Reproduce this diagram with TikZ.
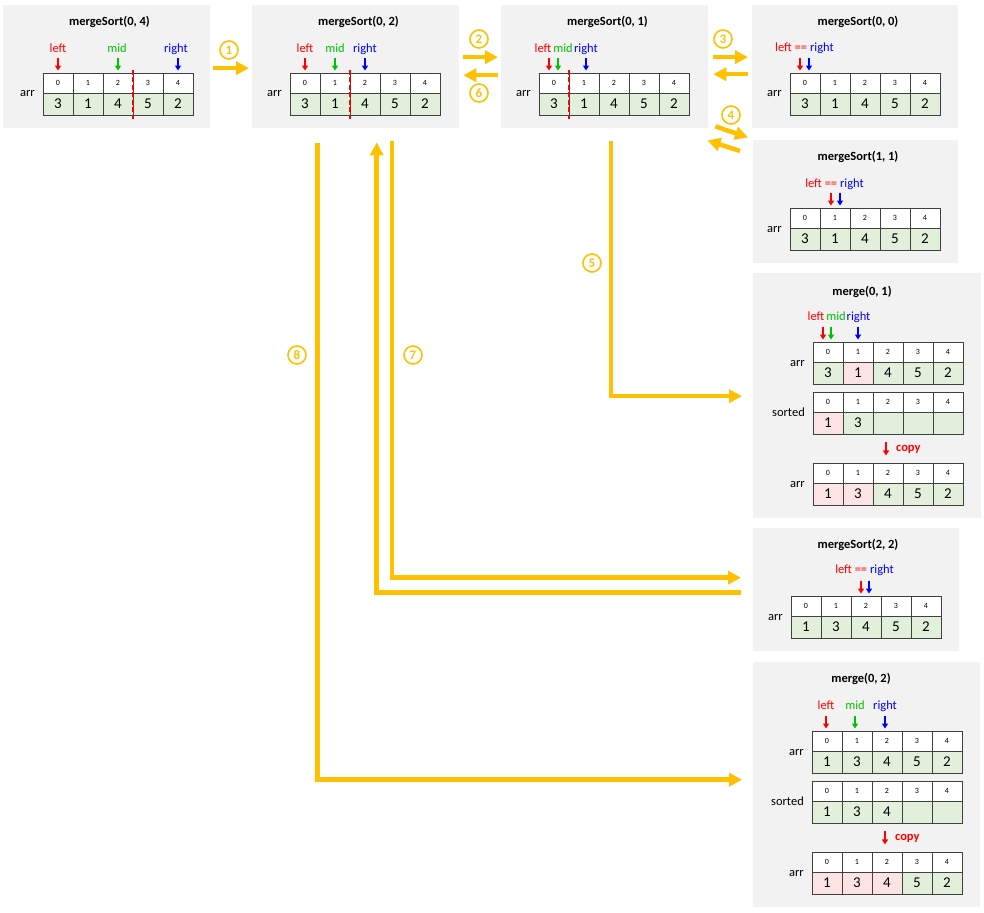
\documentclass[tikz,border=0pt]{standalone}
\usepackage{fontspec}
\setmainfont{Carlito}
\usetikzlibrary{arrows.meta}

\definecolor{panelgray}{HTML}{F2F2F2}
\definecolor{gn}{HTML}{E2EFDA}
\definecolor{pk}{HTML}{FCE4E4}
\definecolor{flowgold}{HTML}{FFC000}
\definecolor{gridline}{HTML}{404040}
\definecolor{midgreen}{HTML}{00C000}

% one array: name, left, top, row label, value/fill list
\newcommand{\arrtab}[5]{%
  \node[rowlbl] (#1-lbl) at (#2-8,#3+24) {#4};
  \foreach \v/\c [count=\i from 0] in {#5} {
    \node[idx] (#1-i\i) at (#2+15+30*\i,#3+10) {\i};
    \node[val, fill=\c] (#1-v\i) at (#2+15+30*\i,#3+31) {\v};
  }
}

\begin{document}
\begin{tikzpicture}[x=1pt, y=-1pt,
panel/.style={fill=panelgray, anchor=north west, inner sep=0pt},
title/.style={font=\bfseries\fontsize{12.5}{14}\selectfont},
lbl/.style={anchor=base, inner sep=0pt, font=\fontsize{12.5}{14}\selectfont},
rowlbl/.style={anchor=base east, inner sep=0pt, font=\fontsize{12.5}{14}\selectfont},
idx/.style={draw=gridline, fill=white, line width=0.9pt, minimum width=30pt, minimum height=20pt, inner sep=0pt, font=\fontsize{8}{9}\selectfont},
val/.style={draw=gridline, line width=0.9pt, minimum width=30pt, minimum height=22pt, inner sep=0pt, font=\fontsize{15}{16}\selectfont},
ptr/.style={-{Triangle[length=5pt,width=6pt]}, line width=1.5pt},
cut/.style={draw=red, line width=2pt, dash pattern=on 5pt off 2.5pt},
flow/.style={-{Triangle[length=13pt,width=13pt]}, line width=4.5pt, flowgold},
badge/.style={circle, draw=flowgold, text=flowgold, line width=1.6pt, minimum size=18pt, inner sep=0pt, font=\bfseries\fontsize{13}{13}\selectfont}
]
\useasboundingbox (0,0) rectangle (984,912);

% mergeSort(0, 4)
\node[panel, minimum width=207pt, minimum height=123pt] (ms04) at (3,5) {};
\node[title] (ms04-t) at (109.5,22) {mergeSort(0, 4)};
\arrtab{ms04a}{43}{73}{arr}{3/gn,1/gn,4/gn,5/gn,2/gn}
\node[lbl, red] (ms04-l) at (58,53) {left};
\node[lbl, midgreen] (ms04-m) at (117,53) {mid};
\node[lbl, blue] (ms04-r) at (176,53) {right};
\draw[ptr, red] ([yshift=15pt]ms04a-i0.north) -- ([yshift=2pt]ms04a-i0.north);
\draw[ptr, midgreen] ([yshift=15pt]ms04a-i2.north) -- ([yshift=2pt]ms04a-i2.north);
\draw[ptr, blue] ([yshift=15pt]ms04a-i4.north) -- ([yshift=2pt]ms04a-i4.north);
\draw[cut] ([yshift=3pt]ms04a-i2.north east) -- ([yshift=-4pt]ms04a-v2.south east);

% mergeSort(0, 2)
\node[panel, minimum width=207pt, minimum height=123pt] (ms02) at (252,5) {};
\node[title] (ms02-t) at (358.5,22) {mergeSort(0, 2)};
\arrtab{ms02a}{290}{73}{arr}{3/gn,1/gn,4/gn,5/gn,2/gn}
\node[lbl, red] (ms02-l) at (305,53) {left};
\node[lbl, midgreen] (ms02-m) at (335,53) {mid};
\node[lbl, blue] (ms02-r) at (365,53) {right};
\draw[ptr, red] ([yshift=15pt]ms02a-i0.north) -- ([yshift=2pt]ms02a-i0.north);
\draw[ptr, midgreen] ([yshift=15pt]ms02a-i1.north) -- ([yshift=2pt]ms02a-i1.north);
\draw[ptr, blue] ([yshift=15pt]ms02a-i2.north) -- ([yshift=2pt]ms02a-i2.north);
\draw[cut] ([yshift=3pt]ms02a-i1.north east) -- ([yshift=-4pt]ms02a-v1.south east);

% mergeSort(0, 1)
\node[panel, minimum width=207pt, minimum height=123pt] (ms01) at (501,5) {};
\node[title] (ms01-t) at (607.5,22) {mergeSort(0, 1)};
\arrtab{ms01a}{539}{73}{arr}{3/gn,1/gn,4/gn,5/gn,2/gn}
\node[lbl, red] (ms01-l) at (543,53) {left};
\node[lbl, midgreen] (ms01-m) at (563,53) {mid};
\node[lbl, blue] (ms01-r) at (586,53) {right};
\draw[ptr, red] ([shift={(-5pt,15pt)}]ms01a-i0.north) -- ([shift={(-5pt,2pt)}]ms01a-i0.north);
\draw[ptr, midgreen] ([shift={(4pt,15pt)}]ms01a-i0.north) -- ([shift={(4pt,2pt)}]ms01a-i0.north);
\draw[ptr, blue] ([shift={(2pt,15pt)}]ms01a-i1.north) -- ([shift={(2pt,2pt)}]ms01a-i1.north);
\draw[cut] ([yshift=3pt]ms01a-i0.north east) -- ([yshift=-4pt]ms01a-v0.south east);

% mergeSort(0, 0)
\node[panel, minimum width=206pt, minimum height=123pt] (ms00) at (752,5) {};
\node[title] (ms00-t) at (858,22) {mergeSort(0, 0)};
\arrtab{ms00a}{790}{73}{arr}{3/gn,1/gn,4/gn,5/gn,2/gn}
\node[lbl] (ms00-lr) at (804.5,52) {\color{red}left == \color{blue}right};
\draw[ptr, red] ([shift={(-5pt,15pt)}]ms00a-i0.north) -- ([shift={(-5pt,2pt)}]ms00a-i0.north);
\draw[ptr, blue] ([shift={(4pt,15pt)}]ms00a-i0.north) -- ([shift={(4pt,2pt)}]ms00a-i0.north);

% mergeSort(1, 1)
\node[panel, minimum width=205pt, minimum height=123pt] (ms11) at (753,140) {};
\node[title] (ms11-t) at (858,157) {mergeSort(1, 1)};
\arrtab{ms11a}{790}{208}{arr}{3/gn,1/gn,4/gn,5/gn,2/gn}
\node[lbl] (ms11-lr) at (834.5,187) {\color{red}left == \color{blue}right};
\draw[ptr, red] ([shift={(-4pt,15pt)}]ms11a-i1.north) -- ([shift={(-4pt,2pt)}]ms11a-i1.north);
\draw[ptr, blue] ([shift={(5pt,15pt)}]ms11a-i1.north) -- ([shift={(5pt,2pt)}]ms11a-i1.north);

% merge(0, 1)
\node[panel, minimum width=228pt, minimum height=245pt] (mg01) at (753,273) {};
\node[title] (mg01-t) at (862,292) {merge(0, 1)};
\arrtab{mg01a}{813}{342}{arr}{3/gn,1/pk,4/gn,5/gn,2/gn}
\arrtab{mg01b}{813}{392}{sorted}{1/pk,3/gn,{}/gn,{}/gn,{}/gn}
\arrtab{mg01c}{813}{463}{arr}{1/pk,3/pk,4/gn,5/gn,2/gn}
\node[lbl, red] (mg01-l) at (816,320) {left};
\node[lbl, midgreen] (mg01-m) at (836,320) {mid};
\node[lbl, blue] (mg01-r) at (858.5,320) {right};
\draw[ptr, red] ([shift={(-5pt,15pt)}]mg01a-i0.north) -- ([shift={(-5pt,2pt)}]mg01a-i0.north);
\draw[ptr, midgreen] ([shift={(3pt,15pt)}]mg01a-i0.north) -- ([shift={(3pt,2pt)}]mg01a-i0.north);
\draw[ptr, blue] ([yshift=15pt]mg01a-i1.north) -- ([yshift=2pt]mg01a-i1.north);
\draw[ptr, red] ([shift={(-2pt,-8pt)}]mg01b-v2.south) -- ([shift={(-2pt,-21pt)}]mg01b-v2.south)
  node[midway, anchor=west, xshift=6pt, font=\bfseries\fontsize{12.5}{14}\selectfont] (mg01-cp) {copy};

% mergeSort(2, 2)
\node[panel, minimum width=206pt, minimum height=123pt] (ms22) at (753,528) {};
\node[title] (ms22-t) at (858,545) {mergeSort(2, 2)};
\arrtab{ms22a}{791}{596}{arr}{1/gn,3/gn,4/gn,5/gn,2/gn}
\node[lbl] (ms22-lr) at (864.5,573) {\color{red}left == \color{blue}right};
\draw[ptr, red] ([shift={(-5pt,15pt)}]ms22a-i2.north) -- ([shift={(-5pt,2pt)}]ms22a-i2.north);
\draw[ptr, blue] ([shift={(3pt,15pt)}]ms22a-i2.north) -- ([shift={(3pt,2pt)}]ms22a-i2.north);

% merge(0, 2)
\node[panel, minimum width=227pt, minimum height=245pt] (mg02) at (753,662) {};
\node[title] (mg02-t) at (861,679) {merge(0, 2)};
\arrtab{mg02a}{812}{731}{arr}{1/gn,3/gn,4/gn,5/gn,2/gn}
\arrtab{mg02b}{812}{781}{sorted}{1/gn,3/gn,4/gn,{}/gn,{}/gn}
\arrtab{mg02c}{812}{852}{arr}{1/pk,3/pk,4/pk,5/gn,2/gn}
\node[lbl, red] (mg02-l) at (826,709) {left};
\node[lbl, midgreen] (mg02-m) at (855,709) {mid};
\node[lbl, blue] (mg02-r) at (885,709) {right};
\draw[ptr, red] ([shift={(-1pt,15pt)}]mg02a-i0.north) -- ([shift={(-1pt,2pt)}]mg02a-i0.north);
\draw[ptr, midgreen] ([shift={(-2pt,15pt)}]mg02a-i1.north) -- ([shift={(-2pt,2pt)}]mg02a-i1.north);
\draw[ptr, blue] ([shift={(-2pt,15pt)}]mg02a-i2.north) -- ([shift={(-2pt,2pt)}]mg02a-i2.north);
\draw[ptr, red] ([shift={(-2pt,-8pt)}]mg02b-v2.south) -- ([shift={(-2pt,-21pt)}]mg02b-v2.south)
  node[midway, anchor=west, xshift=6pt, font=\bfseries\fontsize{12.5}{14}\selectfont] (mg02-cp) {copy};

% call order
\draw[flow] ([shift={(3pt,-1.5pt)}]ms04.east) -- ([shift={(-3pt,-1.5pt)}]ms02.west);
\draw[flow] ([shift={(4pt,9.5pt)}]ms02.east) -- ([shift={(-3pt,9.5pt)}]ms01.west);
\draw[flow] ([shift={(-3pt,-8.5pt)}]ms01.west) -- ([shift={(4pt,-8.5pt)}]ms02.east);
\draw[flow] ([shift={(5pt,9.5pt)}]ms01.east) -- ([shift={(-4pt,9.5pt)}]ms00.west);
\draw[flow] ([shift={(-4pt,-7.5pt)}]ms00.west) -- ([shift={(5pt,-7.5pt)}]ms01.east);
\draw[flow] ([shift={(7pt,2pt)}]ms01.south east) -- ([shift={(-4pt,-9pt)}]ms00.south west);
\draw[flow] ([shift={(-13pt,-11pt)}]ms11.north west) -- ([shift={(-1pt,-12pt)}]ms01.south east);
\draw[flow] ([shift={(6.5pt,-13pt)}]ms01.south) |- ([shift={(-11pt,-0.5pt)}]mg01.west);
\draw[flow] ([shift={(36.5pt,-13pt)}]ms02.south) |- ([shift={(-12pt,12pt)}]ms22.west);
\draw[flow] ([shift={(-12pt,-3pt)}]ms22.west) -| ([shift={(21pt,-14pt)}]ms02.south);
\draw[flow] ([shift={(-38pt,-15pt)}]ms02.south) |- ([shift={(-11pt,5pt)}]mg02.west);

\node[badge] (b1) at (229,50) {1};
\node[badge] (b2) at (479,39) {2};
\node[badge] (b3) at (723,39) {3};
\node[badge] (b4) at (731,115) {4};
\node[badge] (b5) at (592,263) {5};
\node[badge] (b6) at (479,93) {6};
\node[badge] (b7) at (413,355) {7};
\node[badge] (b8) at (297,355) {8};
\end{tikzpicture}
\end{document}
